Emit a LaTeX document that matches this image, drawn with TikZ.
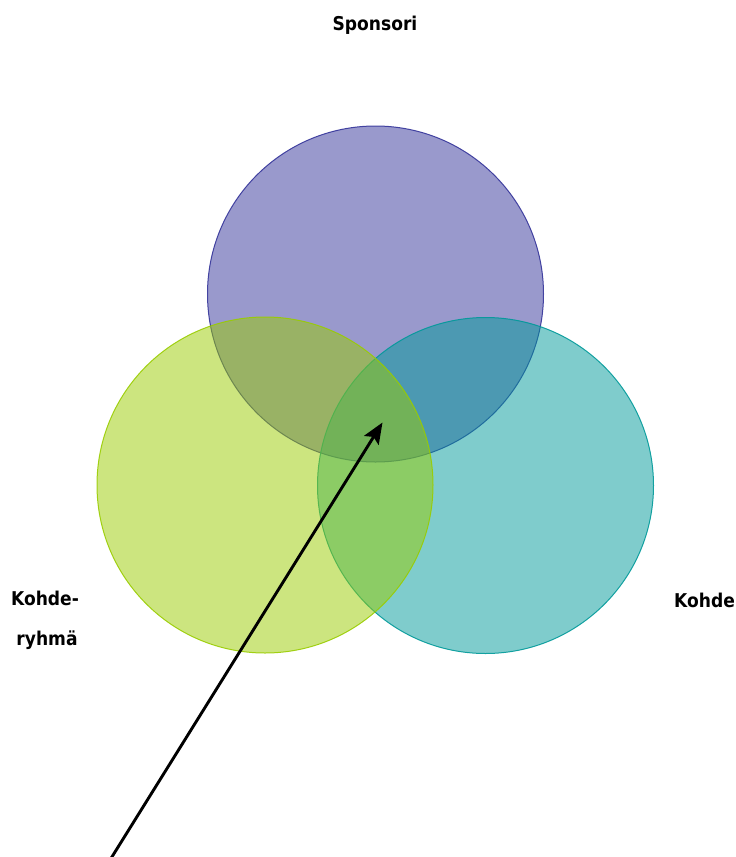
\documentclass[tikz,border=0pt]{standalone}
\usepackage{fontspec}
\setmainfont{DejaVu Sans Condensed}
\usepackage{xcolor}
\usepackage{tikz}
\usetikzlibrary{arrows.meta, positioning}
\definecolor{mypurple}{RGB}{51,51,153}
\definecolor{mygreen}{RGB}{153,204,0}
\definecolor{myteal}{RGB}{0,153,153}
\definecolor{mydark}{RGB}{0,0,0}
\tikzset{
  venn/.style={circle, minimum size=336pt, inner sep=0pt,
    fill opacity=0.5, draw opacity=0.9, line width=1pt},
  vennlabel/.style={font=\fontsize{19}{23}\selectfont\bfseries,
    text=mydark, inner sep=0pt, anchor=base},
  arrow/.style={-{Stealth[length=21pt, width=17pt, inset=4pt]},
    line width=2.9pt, color=mydark}
}

\begin{document}
\begin{tikzpicture}[x=1pt, y=-1pt]
  \useasboundingbox (0,0) rectangle (736,857);

  % circles: purple first, then teal, green on top
  \node[venn, draw=mypurple, fill=mypurple] (sponsori) at (375.5,294) {};
  \node[venn, draw=myteal, fill=myteal] (kohde) at (485.5,485.5) {};
  \node[venn, draw=mygreen, fill=mygreen] (ryhma) at (265,485) {};

  % labels
  \node[vennlabel] (lsponsori) at (375,30) {Sponsori};
  \node[vennlabel] (lkohde) at (704.5,607) {Kohde};
  \node[vennlabel] (lryhma1) at (45,605) {Kohde-};
  \node[vennlabel] (lryhma2) at (47,645) {ryhmä};

  % pointer into the common part
  \coordinate (tail) at (110,860);
  \coordinate (tip) at (382.5,422.5);
  \draw[arrow] (tail) -- (tip);
\end{tikzpicture}
\end{document}
